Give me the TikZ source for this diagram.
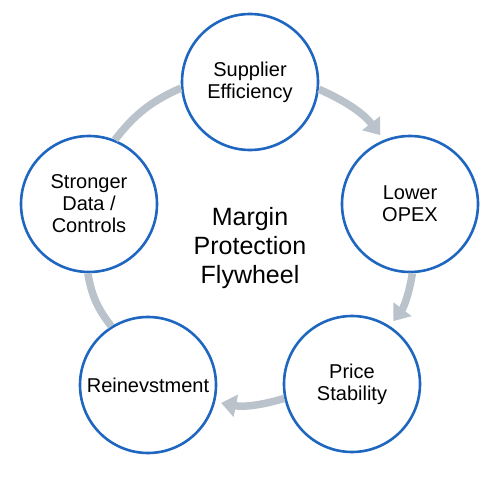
\documentclass[tikz,border=0pt]{standalone}
\usepackage{fontspec}
\setmainfont{Liberation Sans}
\usepackage{xcolor}
\usetikzlibrary{arrows.meta}
\definecolor{ringblue}{RGB}{30,102,192}
\definecolor{flowgray}{RGB}{186,195,203}

\begin{document}
\begin{tikzpicture}[x=1pt,y=-1pt,
  stage/.style={circle,draw=ringblue,line width=2.6pt,fill=white,minimum size=136pt,inner sep=0pt,align=center,font=\fontsize{20}{22}\selectfont},
  flow/.style={draw=flowgray,line width=7.5pt,bend left=14},
  flowtip/.style={flow,-{Triangle[length=15pt,width=22pt]},shorten >=6pt}]
\useasboundingbox (0,0) rectangle (500,500);
% the five stages of the wheel
\node[stage] (sup) at (250,82) {Supplier\\Efficiency};
\node[stage] (opex) at (410,204) {Lower\\OPEX};
\node[stage] (price) at (352,384) {Price\\Stability};
\node[stage] (reinv) at (148,385) {Reinevstment};
\node[stage] (data) at (89,204) {Stronger\\Data /\\Controls};
% hub label
\node[font=\fontsize{25}{29}\selectfont,align=center] (hub) at (250,248) {Margin\\Protection\\Flywheel};
% flow between stages
\draw[flowtip] (sup.-6) to (opex.112);
\draw[flowtip] (opex.-88) to (price.57);
\draw[flowtip] (price.-168) to (reinv.-14);
\draw[flow] (reinv.122) to (data.-91);
\draw[flow] (data.68) to (sup.-175);
\end{tikzpicture}
\end{document}
